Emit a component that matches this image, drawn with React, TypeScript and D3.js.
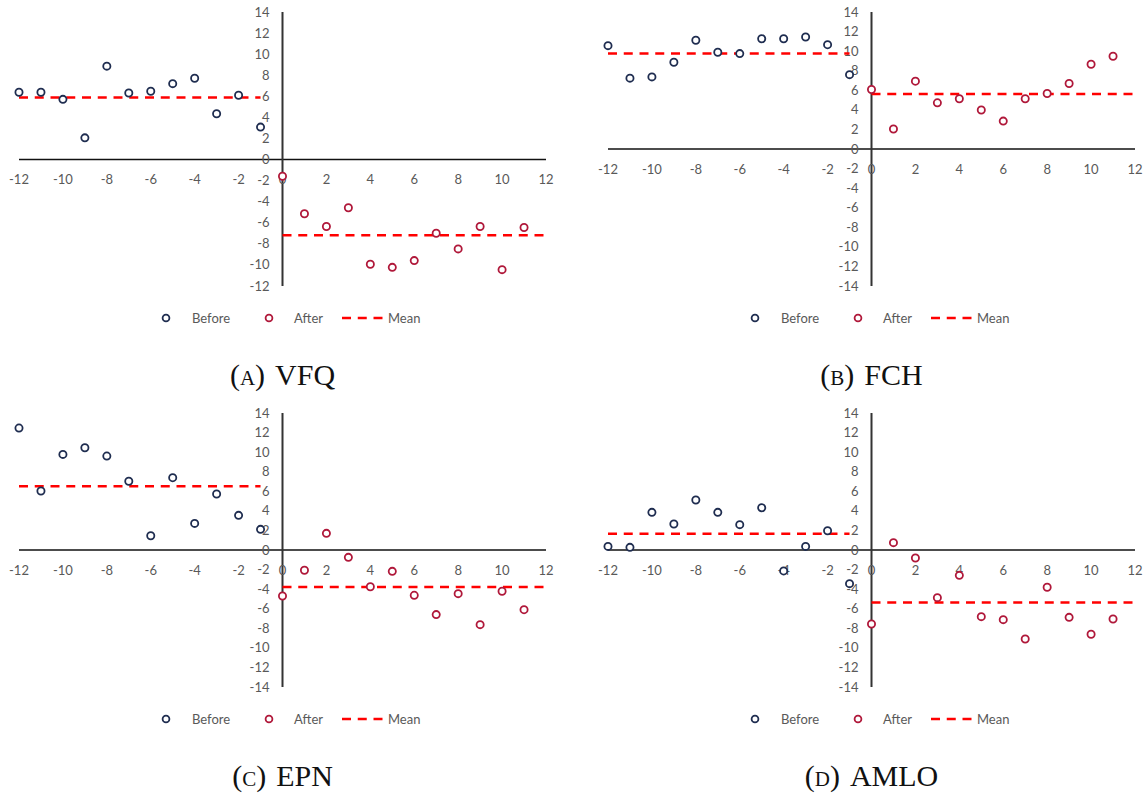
import React from 'react';
import * as d3 from 'd3';

// lags relative to the event, before and after
const beforeX = [-12, -11, -10, -9, -8, -7, -6, -5, -4, -3, -2, -1];
const afterX = [0, 1, 2, 3, 4, 5, 6, 7, 8, 9, 10, 11];

const vfqBefore = [6.38, 6.38, 5.71, 2.06, 8.86, 6.31, 6.48, 7.2, 7.71, 4.34, 6.1, 3.08];
const vfqAfter = [-1.59, -5.14, -6.35, -4.57, -9.94, -10.23, -9.59, -6.99, -8.48, -6.35, -10.45, -6.45];

const fchBefore = [10.56, 7.24, 7.37, 8.87, 11.11, 9.89, 9.75, 11.27, 11.27, 11.45, 10.66, 7.6];
const fchAfter = [6.08, 2.04, 6.93, 4.72, 5.13, 3.98, 2.85, 5.13, 5.67, 6.69, 8.66, 9.48];

const epnBefore = [12.46, 6.03, 9.77, 10.45, 9.6, 7.02, 1.46, 7.39, 2.72, 5.72, 3.54, 2.11];
const epnAfter = [-4.7, -2.07, 1.7, -0.75, -3.75, -2.18, -4.63, -6.6, -4.46, -7.63, -4.22, -6.1];

const amloBefore = [0.37, 0.27, 3.85, 2.66, 5.11, 3.85, 2.59, 4.32, -2.14, 0.37, 1.97, -3.44];
const amloAfter = [-7.56, 0.75, -0.82, -4.87, -2.59, -6.81, -7.12, -9.09, -3.81, -6.88, -8.61, -7.05];

const xTicks = [-12, -10, -8, -6, -4, -2, 0, 2, 4, 6, 8, 10, 12];
const yTicksA = [-12, -10, -8, -6, -4, -2, 0, 2, 4, 6, 8, 10, 12, 14];
const yTicksFull = [-14, -12, -10, -8, -6, -4, -2, 0, 2, 4, 6, 8, 10, 12, 14];

const BEFORE = '#1F2D50';
const AFTER = '#B0183A';
const MEAN = '#FF0000';
const LABEL = '#595959';
const FONT = 'Lato, "Open Sans", sans-serif';

type PanelProps = {
  ox: number;
  oy: number;
  letter: string;
  name: string;
  before: number[];
  after: number[];
  yTicks: number[];
};

function Panel({ ox, oy, letter, name, before, after, yTicks }: PanelProps) {
  const x = d3.scaleLinear().domain([-12, 12]).range([19, 546]);
  const y = d3.scaleLinear().domain([yTicks[0], 14]).range([286, 12]);
  const x0 = x(0);
  const y0 = y(0);
  const meanB = d3.mean(before) as number;
  const meanA = d3.mean(after) as number;
  const line = d3.line<[number, number]>().x(d => x(d[0])).y(d => y(d[1]));

  return (
    <g transform={`translate(${ox},${oy})`}>
      {/* axes */}
      <line x1={x(-12)} x2={x(12)} y1={y0} y2={y0} stroke="#111" strokeWidth={1.5} />
      <line x1={x0} x2={x0} y1={y(yTicks[0])} y2={y(14)} stroke="#333" strokeWidth={2} />

      {yTicks.map(t => (
        <text key={'y' + t} x={x0 - 13} y={y(t)} dy="0.35em" textAnchor="end"
          fontFamily={FONT} fontSize={13} fill={LABEL}>{t}</text>
      ))}
      {xTicks.map(t => (
        <text key={'x' + t} x={x(t)} y={y0 + 20} dy="0.35em" textAnchor="middle"
          fontFamily={FONT} fontSize={13} fill={LABEL}>{t}</text>
      ))}

      {/* mean lines */}
      <path d={line([[-12, meanB], [-1, meanB]]) || ''} stroke={MEAN} strokeWidth={2.5}
        strokeDasharray="9,6.75" fill="none" />
      <path d={line([[0, meanA], [12, meanA]]) || ''} stroke={MEAN} strokeWidth={2.5}
        strokeDasharray="9,6.75" fill="none" />

      {before.map((v, i) => (
        <circle key={'b' + i} cx={x(beforeX[i])} cy={y(v)} r={3.6} fill="#fff"
          stroke={BEFORE} strokeWidth={1.8} />
      ))}
      {after.map((v, i) => (
        <circle key={'a' + i} cx={x(afterX[i])} cy={y(v)} r={3.6} fill="#fff"
          stroke={AFTER} strokeWidth={1.8} />
      ))}

      {/* legend */}
      <g fontFamily={FONT} fontSize={13} fill={LABEL}>
        <circle cx={166} cy={318} r={3.4} fill="#fff" stroke={BEFORE} strokeWidth={1.8} />
        <text x={192} y={318} dy="0.35em">Before</text>
        <circle cx={269} cy={318} r={3.4} fill="#fff" stroke={AFTER} strokeWidth={1.8} />
        <text x={294} y={318} dy="0.35em">After</text>
        <line x1={342} x2={383} y1={318} y2={318} stroke={MEAN} strokeWidth={2.5} strokeDasharray="9,6.75" />
        <text x={388} y={318} dy="0.35em">Mean</text>
      </g>

      {/* caption */}
      <text x={x0} y={385} textAnchor="middle" fontFamily='"Liberation Serif", serif' fontSize={30} fill="#111">
        (<tspan style={{ fontVariant: 'small-caps' }}>{letter}</tspan>)
        <tspan dx={10}>{name}</tspan>
      </text>
    </g>
  );
}

export default function App() {
  return (
    <svg width={1145} height={794} style={{ position: 'absolute', left: 0, top: 0, background: '#fff' }}>
      <Panel ox={0} oy={0} letter="a" name="VFQ" before={vfqBefore} after={vfqAfter} yTicks={yTicksA} />
      <Panel ox={589} oy={0} letter="b" name="FCH" before={fchBefore} after={fchAfter} yTicks={yTicksFull} />
      <Panel ox={0} oy={401} letter="c" name="EPN" before={epnBefore} after={epnAfter} yTicks={yTicksFull} />
      <Panel ox={589} oy={401} letter="d" name="AMLO" before={amloBefore} after={amloAfter} yTicks={yTicksFull} />
    </svg>
  );
}
